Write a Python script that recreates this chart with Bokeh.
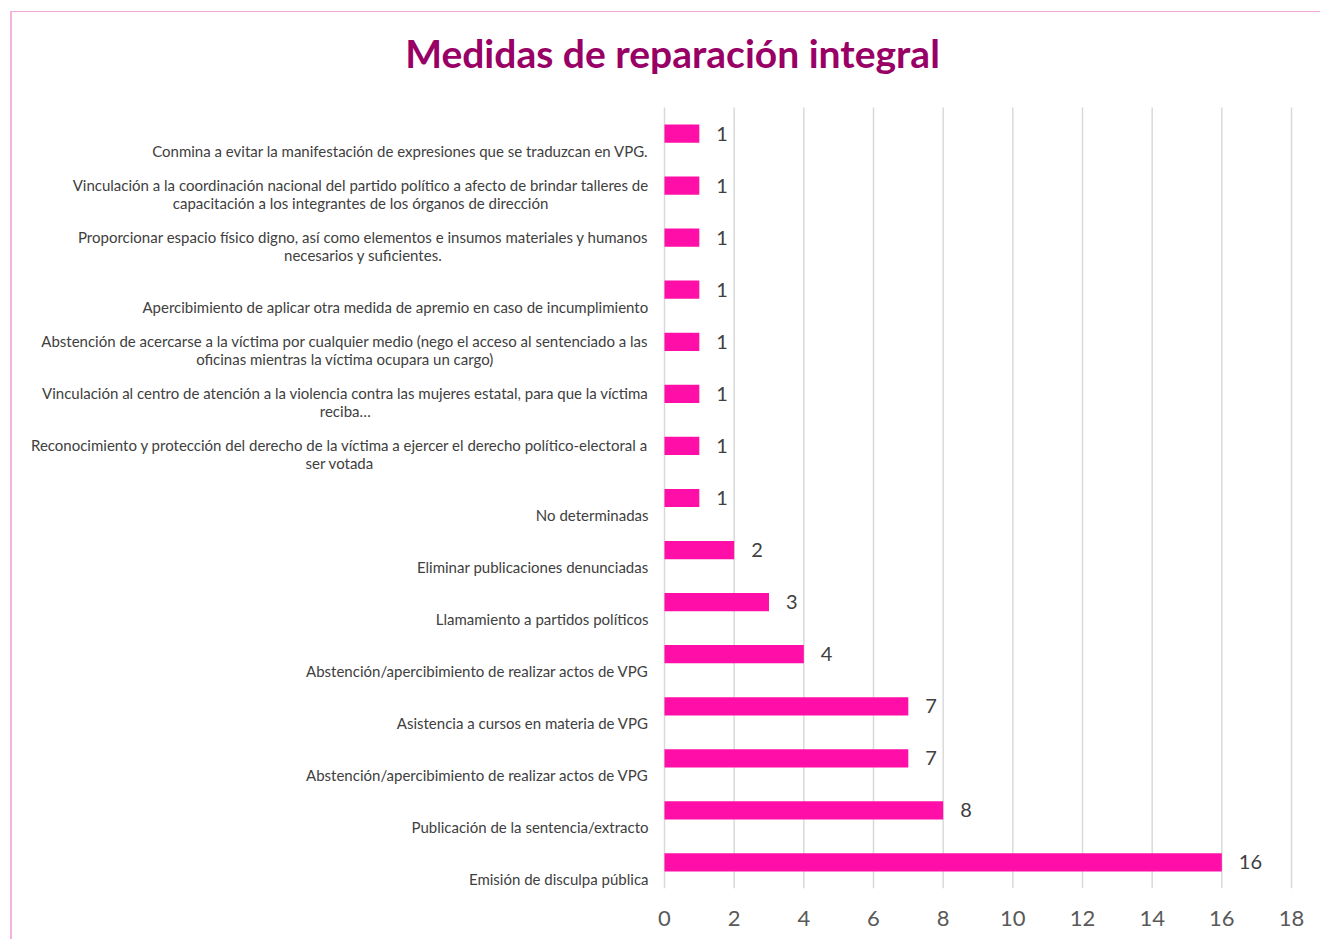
from bokeh.plotting import figure
from bokeh.models import Range1d, FixedTicker, ColumnDataSource, Label
from bokeh.core.properties import value
from bokeh.embed import file_html
from bokeh.resources import INLINE

# Categories, listed top to bottom as in the chart ("\n" = wrapped line)
categories = [
    "Conmina a evitar la manifestación de expresiones que se traduzcan en VPG.",
    "Vinculación a la coordinación nacional del partido político a afecto de brindar talleres de\ncapacitación a los integrantes de los órganos de dirección",
    "Proporcionar espacio físico digno, así como elementos e insumos materiales y humanos\nnecesarios y suficientes.",
    "Apercibimiento de aplicar otra medida de apremio en caso de incumplimiento",
    "Abstención de acercarse a la víctima por cualquier medio (nego el acceso al sentenciado a las\noficinas mientras la víctima ocupara un cargo)",
    "Vinculación al centro de atención a la violencia contra las mujeres estatal, para que la víctima\nreciba…",
    "Reconocimiento y protección del derecho de la víctima a ejercer el derecho político-electoral a\nser votada",
    "No determinadas",
    "Eliminar publicaciones denunciadas",
    "Llamamiento a partidos políticos",
    "Abstención/apercibimiento de realizar actos de VPG",
    "Asistencia a cursos en materia de VPG",
    "Abstención/apercibimiento de realizar actos de VPG",
    "Publicación de la sentencia/extracto",
    "Emisión de disculpa pública",
]
values = [1, 1, 1, 1, 1, 1, 1, 1, 2, 3, 4, 7, 7, 8, 16]
x_ticks = [0, 2, 4, 6, 8, 10, 12, 14, 16, 18]

TITLE = "Medidas de reparación integral"
FONT = "Lato"
BAR = "#FF0FA8"
TXT = "#404040"
GRID = "#D9D9D9"

n = len(categories)
x_max = x_ticks[-1]

# ---- layout (pixels) ----
W, H = 1310, 928
PLOT_W = 627          # px from value 0 to value 18
PLOT_H = 781          # px of the category area
LEFT_PX = 652         # px from canvas left to value 0
TOP_PX = 95           # px from canvas top to first category band
RIGHT_PAD = 11
BOTTOM_BORDER = 52
UNIT = PLOT_W / x_max
BAND = PLOT_H / n

x_start = -LEFT_PX / UNIT
x_end = x_max + RIGHT_PAD / UNIT
y_end = n + TOP_PX / BAND

centers = [n - 1 - i + 0.5 for i in range(n)]

src = ColumnDataSource(dict(
    y=centers, v=values, lbl=[str(v) for v in values],
    cat=categories, cat_y=[c - 26 / BAND for c in centers],
))

p = figure(
    width=W, height=H,
    x_range=Range1d(x_start, x_end), y_range=Range1d(0, y_end),
    output_backend="svg", toolbar_location=None, y_axis_location=None,
    min_border_left=0, min_border_right=W - LEFT_PX - PLOT_W - RIGHT_PAD,
    min_border_top=0, min_border_bottom=BOTTOM_BORDER,
    styles={"border-top": "1px solid #F4A7D8", "border-left": "2px solid #F7B3DE",
            "margin-top": "11px", "margin-left": "10px"},
)
p.outline_line_color = None
p.xgrid.grid_line_color = None
p.ygrid.grid_line_color = None

# vertical gridlines over the category area only
p.segment(x0=x_ticks, y0=[0] * len(x_ticks), x1=x_ticks, y1=[n] * len(x_ticks),
          line_color=GRID, line_width=1.5)

p.hbar(y="y", left=0, right="v", height=0.35, source=src,
       fill_color=BAR, line_color=None)

p.text(x="v", y="y", text="lbl", source=src, x_offset=17,
       text_align="left", text_baseline="middle",
       text_font=value(FONT), text_font_size="20px", text_color=TXT)

# category labels: right edge 16px left of the axis, wrapped lines centred
p.text(x=0, y="cat_y", text="cat", source=src, x_offset=-16,
       anchor="bottom_right", text_align="center",
       text_font=value(FONT), text_font_size="15px", text_color=TXT,
       text_line_height=1.0)

# title
p.add_layout(Label(x=(672 - 664) / UNIT, y=n + 55 / BAND, text=TITLE,
                   text_align="center", text_baseline="middle",
                   text_font=FONT, text_font_size="39px", text_font_style="bold",
                   text_color="#990066"))

# x axis
p.xaxis.ticker = FixedTicker(ticks=x_ticks)
p.xaxis.axis_line_color = None
p.xaxis.major_tick_line_color = None
p.xaxis.minor_tick_line_color = None
p.xaxis.major_label_standoff = 16
p.xaxis.major_label_text_font = FONT
p.xaxis.major_label_text_font_size = "22px"
p.xaxis.major_label_text_color = "#595959"

open("out.html", "w").write(file_html(p, INLINE))
